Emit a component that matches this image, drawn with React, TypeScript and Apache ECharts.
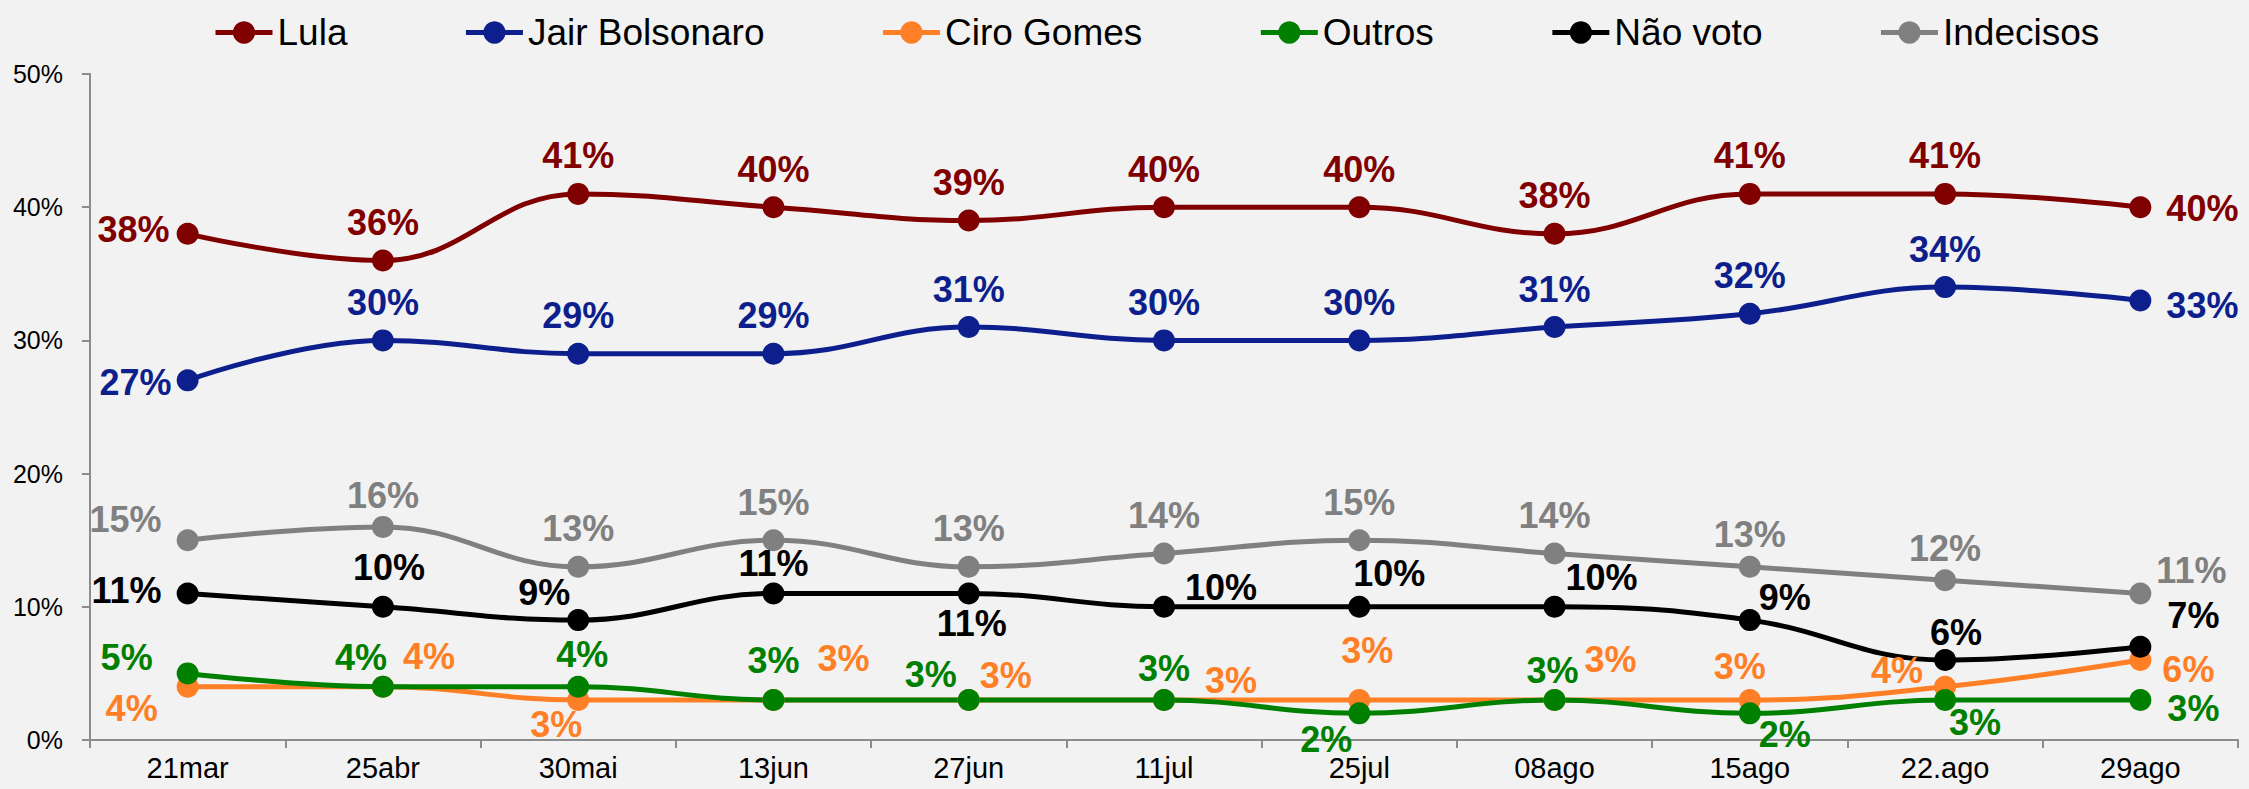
import React, { useEffect, useRef } from "react";
import * as echarts from "echarts";

const categories = ["21mar", "25abr", "30mai", "13jun", "27jun", "11jul", "25jul", "08ago", "15ago", "22.ago", "29ago"];
const yTicks = [0, 10, 20, 30, 40, 50];

const lula = [38, 36, 41, 40, 39, 40, 40, 38, 41, 41, 40];
const bolsonaro = [27, 30, 29, 29, 31, 30, 30, 31, 32, 34, 33];
const ciro = [4, 4, 3, 3, 3, 3, 3, 3, 3, 4, 6];
const outros = [5, 4, 4, 3, 3, 3, 2, 3, 2, 3, 3];
const naoVoto = [11, 10, 9, 11, 11, 10, 10, 10, 9, 6, 7];
const indecisos = [15, 16, 13, 15, 13, 14, 15, 14, 13, 12, 11];

// label placement (style only): [position, dx, dy]
type LP = [string, number, number];
const T: LP = ["top", 0, -4];
const lulaLab: LP[] = [["left", -2, -4], T, T, T, T, T, T, T, T, T, ["right", 10, 1]];
const bolsLab: LP[] = [["left", 0, 2], T, T, T, T, T, T, T, T, T, ["right", 10, 5]];
const ciroLab: LP[] = [
  ["left", -14, 22], ["right", 4, -30], ["bottom", -22, -10], ["right", 28, -42], ["right", -5, -25],
  ["right", 25, -20], ["top", 8, -16], ["right", 14, -41], ["top", -10, 0], ["left", -6, -16], ["right", 6, 9],
];
const outrosLab: LP[] = [
  ["left", -19, -16], ["top", -22, 5], ["top", 4, 2], ["top", 0, -6], ["left", 4, -26],
  ["top", 0, 2], ["bottom", -33, -8], ["top", -2, 4], ["right", -7, 21], ["right", -12, 22], ["right", 11, 8],
];
const naoLab: LP[] = [
  ["left", -10, -3], ["top", 6, -5], ["left", 8, -28], ["top", 0, 4], ["bottom", 3, -4],
  ["right", 5, -19], ["top", 30, 1], ["right", -5, -29], ["right", -7, -23], ["top", 11, 6], ["right", 11, -31],
];
const indLab: LP[] = [
  ["left", -10, -21], ["top", 0, 3], ["top", 0, -4], ["top", 0, -4], ["top", 0, -4], ["top", 0, -4],
  ["top", 0, -4], ["top", 0, -4], ["top", 0, 2], ["top", 0, 2], ["right", 0, -23],
];

const FONT = "'Liberation Sans', Arial, Helvetica, sans-serif";

function makeSeries(name: string, values: number[], color: string, labs: LP[]) {
  return {
    name,
    type: "line",
    smooth: 0.42,
    symbol: "circle",
    symbolSize: 22,
    lineStyle: { color, width: 5 },
    itemStyle: { color },
    data: values.map((v, i) => ({
      value: v,
      label: {
        show: true,
        position: labs[i][0],
        offset: [labs[i][1], labs[i][2]],
        distance: 5,
        formatter: "{c}%",
        color,
        fontFamily: FONT,
        fontWeight: "bold",
        fontSize: 36,
      },
    })),
  };
}

export default function App() {
  const ref = useRef<HTMLDivElement>(null);
  useEffect(() => {
    if (!ref.current) return;
    const chart = echarts.init(ref.current, undefined, { renderer: "svg" });
    chart.setOption({
      animation: false,
      backgroundColor: "#f2f2f2",
      legend: {
        top: 9,
        left: 208,
        itemWidth: 57,
        itemHeight: 28,
        itemGap: 116,
        lineStyle: { width: 5 },
        textStyle: { fontFamily: FONT, fontSize: 37, color: "#000" },
        data: ["Lula", "Jair Bolsonaro", "Ciro Gomes", "Outros", "Não voto", "Indecisos"],
      },
      grid: { left: 90, right: 11, top: 74, bottom: 49, containLabel: false },
      xAxis: {
        type: "category",
        data: categories,
        boundaryGap: true,
        axisLine: { lineStyle: { color: "#8c8c8c", width: 2 } },
        axisTick: { show: true, length: 8, lineStyle: { color: "#8c8c8c", width: 2 } },
        axisLabel: { fontFamily: FONT, fontSize: 29, color: "#000", margin: 13 },
      },
      yAxis: {
        type: "value",
        min: yTicks[0],
        max: yTicks[yTicks.length - 1],
        interval: 10,
        splitLine: { show: false },
        axisLine: { show: true, lineStyle: { color: "#8c8c8c", width: 2 } },
        axisTick: { show: true, length: 8, lineStyle: { color: "#8c8c8c", width: 2 } },
        axisLabel: {
          fontFamily: FONT,
          fontSize: 25,
          color: "#000",
          margin: 27,
          formatter: "{value}%",
        },
      },
      series: [
        makeSeries("Lula", lula, "#800000", lulaLab),
        makeSeries("Jair Bolsonaro", bolsonaro, "#0d1f8c", bolsLab),
        makeSeries("Ciro Gomes", ciro, "#ff7f27", ciroLab),
        makeSeries("Outros", outros, "#008000", outrosLab),
        makeSeries("Não voto", naoVoto, "#000000", naoLab),
        makeSeries("Indecisos", indecisos, "#808080", indLab),
      ],
    });
    return () => chart.dispose();
  }, []);
  return (
    <div
      ref={ref}
      style={{ position: "absolute", left: 0, top: 0, width: 2249, height: 789 }}
    />
  );
}
